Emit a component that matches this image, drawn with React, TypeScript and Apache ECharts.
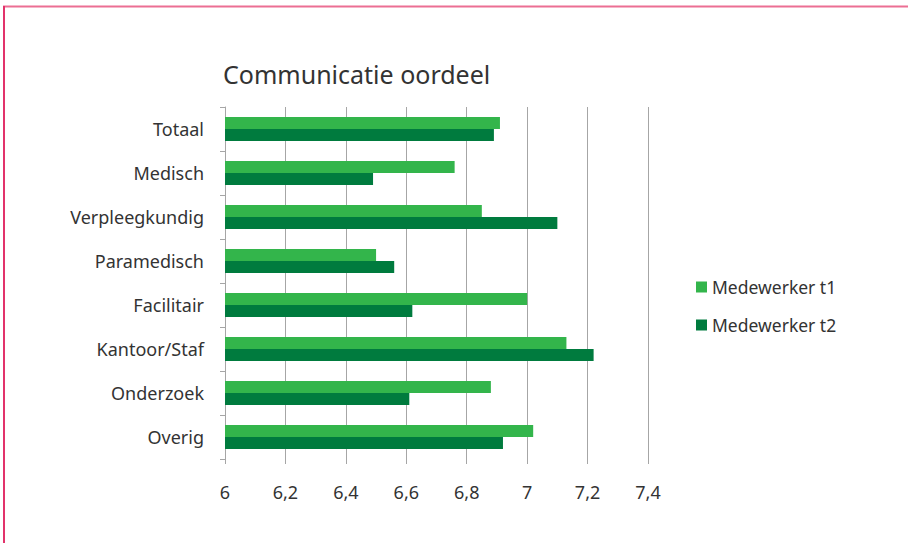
import React, { useEffect, useRef } from "react";
import * as echarts from "echarts";

const categories = ["Totaal", "Medisch", "Verpleegkundig", "Paramedisch", "Facilitair", "Kantoor/Staf", "Onderzoek", "Overig"];
const seriesT1 = [6.91, 6.76, 6.85, 6.5, 7.0, 7.13, 6.88, 7.02];
const seriesT2 = [6.89, 6.49, 7.1, 6.56, 6.62, 7.22, 6.61, 6.92];
const seriesNames = ["Medewerker t1", "Medewerker t2"];
const xTicks = [6, 6.2, 6.4, 6.6, 6.8, 7, 7.2, 7.4];

const FONT = "'Noto Sans', 'Open Sans', sans-serif";
const TEXT = "#333333";
const GRID = "#a6a6a6";

export default function App() {
  const ref = useRef<HTMLDivElement>(null);
  useEffect(() => {
    if (!ref.current) return;
    const chart = echarts.init(ref.current, null, { renderer: "svg" });
    chart.setOption({
      animation: false,
      backgroundColor: "#ffffff",
      textStyle: { fontFamily: FONT },
      title: {
        text: "Communicatie oordeel",
        left: 218,
        top: 56,
        textStyle: { fontFamily: FONT, fontSize: 25, fontWeight: "normal", color: TEXT },
      },
      legend: {
        orient: "vertical",
        left: 691,
        top: 272,
        itemWidth: 11,
        itemHeight: 11,
        itemGap: 18,
        icon: "rect",
        textStyle: { fontFamily: FONT, fontSize: 17.5, lineHeight: 20, color: TEXT },
        data: seriesNames,
      },
      grid: { left: 225, right: 260, top: 107, bottom: 84 },
      xAxis: {
        type: "value",
        min: 6,
        max: 7.4,
        interval: 0.2,
        axisLine: { show: false },
        axisTick: { show: true, length: 5, lineStyle: { color: GRID } },
        splitLine: { show: true, lineStyle: { color: GRID, width: 1 } },
        axisLabel: {
          margin: 24,
          fontFamily: FONT,
          fontSize: 18,
          color: TEXT,
          formatter: (v: number) => {
            const t = xTicks.find((x) => Math.abs(x - v) < 1e-6);
            return t === undefined ? "" : String(t).replace(".", ",");
          },
        },
      },
      yAxis: {
        type: "category",
        inverse: true,
        data: categories,
        axisLine: { show: true, lineStyle: { color: GRID } },
        axisTick: { show: true, length: 5, lineStyle: { color: GRID } },
        axisLabel: { margin: 21, fontFamily: FONT, fontSize: 18, color: TEXT },
      },
      series: [
        {
          name: seriesNames[0],
          type: "bar",
          data: seriesT1,
          barWidth: 12,
          barGap: "0%",
          itemStyle: { color: "#33b54b" },
        },
        {
          name: seriesNames[1],
          type: "bar",
          data: seriesT2,
          barWidth: 12,
          barGap: "0%",
          itemStyle: { color: "#007b3e" },
        },
      ],
      graphic: [
        { type: "line", shape: { x1: 3, y1: 6.5, x2: 908, y2: 6.5 }, style: { stroke: "#ec6f93", lineWidth: 2 } },
        { type: "line", shape: { x1: 4, y1: 6, x2: 4, y2: 543 }, style: { stroke: "#e2336b", lineWidth: 2 } },
      ],
    });
    return () => chart.dispose();
  }, []);
  return <div ref={ref} style={{ position: "fixed", left: 0, top: 0, width: 908, height: 543 }} />;
}
